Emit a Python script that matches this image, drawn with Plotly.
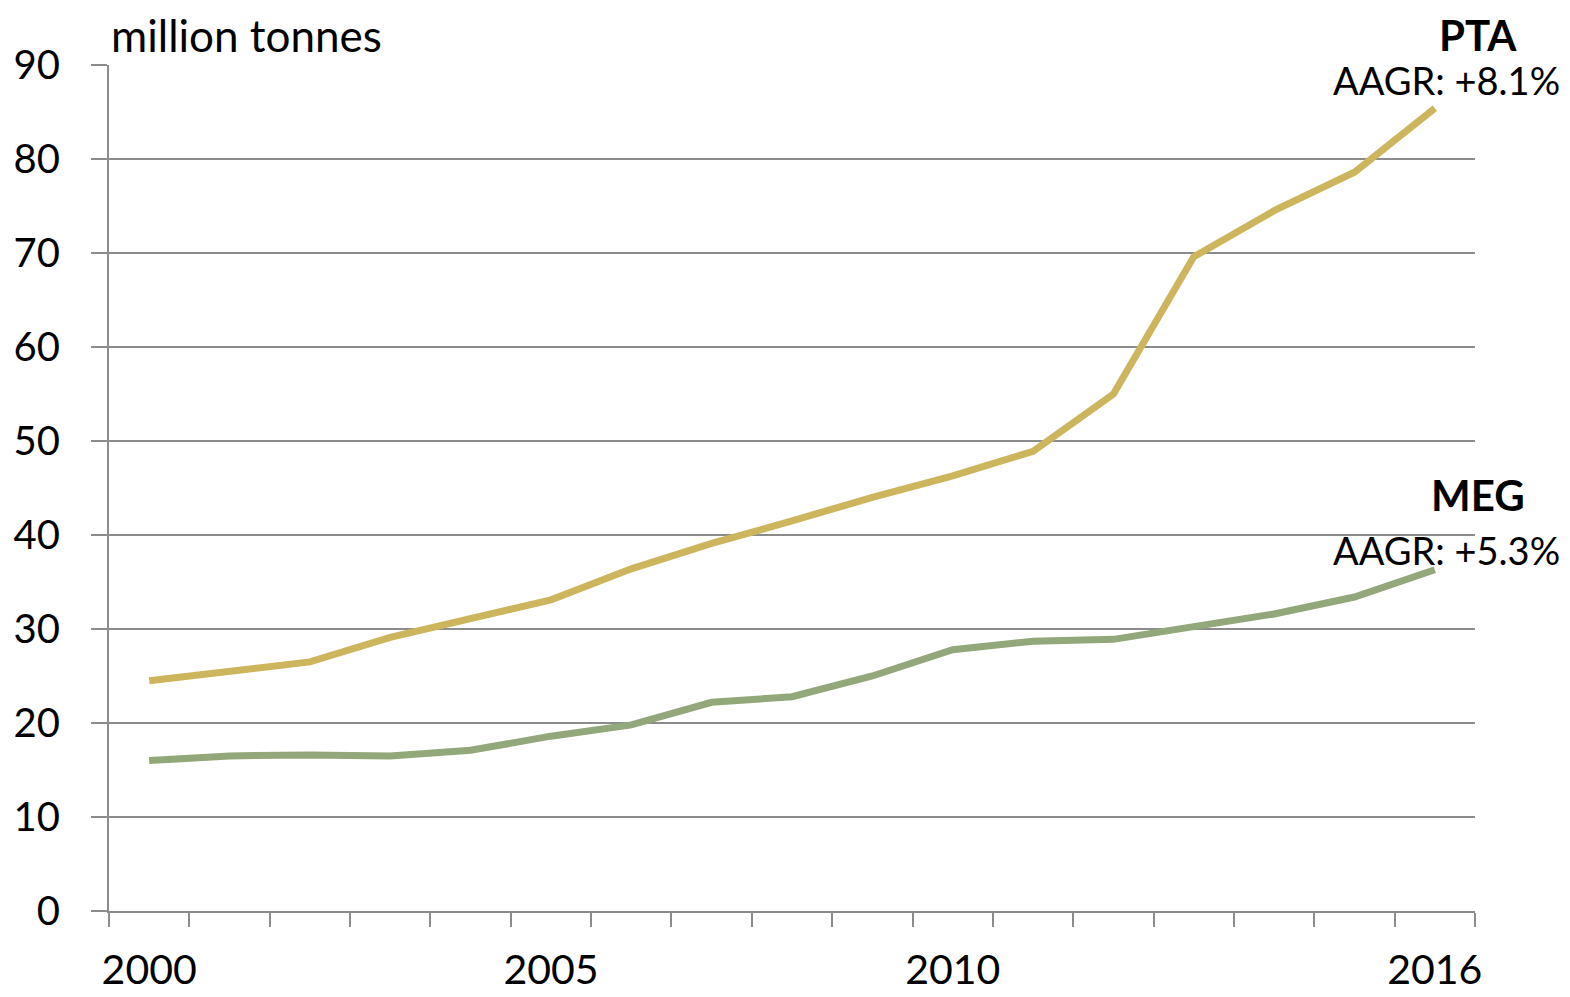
import plotly.graph_objects as go

years = list(range(2000, 2017))
pta = [24.5, 25.5, 26.5, 29.1, 31.1, 33.1, 36.4, 39.1, 41.5, 44.0, 46.3, 48.9, 55.0, 69.6, 74.5, 78.6, 85.4]
meg = [16.0, 16.5, 16.6, 16.5, 17.1, 18.6, 19.8, 22.2, 22.8, 25.0, 27.8, 28.7, 28.9, 30.2, 31.6, 33.4, 36.3]
x_tick_vals = [2000, 2005, 2010, 2016]
y_tick_vals = [0, 10, 20, 30, 40, 50, 60, 70, 80, 90]

FONT = "Lato"
GRID = "#8c8c8c"

fig = go.Figure()
fig.add_trace(go.Scatter(x=years, y=pta, mode="lines", line=dict(color="#CDB55E", width=7), name="PTA"))
fig.add_trace(go.Scatter(x=years, y=meg, mode="lines", line=dict(color="#93A87A", width=7), name="MEG"))

fig.update_layout(
    width=1554, height=989,
    margin=dict(l=101, r=87, t=57, b=86),
    plot_bgcolor="white", paper_bgcolor="white",
    showlegend=False,
    font=dict(family=FONT, size=40, color="black"),
    xaxis=dict(
        range=[1999.5, 2016.5], automargin=False,
        tickmode="array", tickvals=x_tick_vals, ticktext=[str(v) for v in x_tick_vals],
        ticks="", showgrid=False, zeroline=False,
        showline=True, linecolor=GRID, linewidth=2,
        tickfont=dict(size=41),
        ticklabelstandoff=22,
        minor=dict(tickmode="array", tickvals=[y + 0.5 for y in range(1999, 2017)],
                   ticks="outside", ticklen=14, tickcolor=GRID, tickwidth=2, showgrid=False),
    ),
    yaxis=dict(
        range=[0, 90], automargin=False,
        tickmode="array", tickvals=y_tick_vals,
        ticks="outside", ticklen=16, tickcolor=GRID, tickwidth=2,
        showgrid=True, gridcolor=GRID, gridwidth=2,
        zeroline=False, showline=True, linecolor=GRID, linewidth=2,
        tickfont=dict(size=40),
        ticklabelstandoff=23,
    ),
)

fig.add_annotation(x=0.0, y=1.0355, xref="paper", yref="paper", text="million tonnes", showarrow=False,
                   xanchor="left", yanchor="middle", font=dict(size=44))
fig.add_annotation(x=1.0022, y=1.0674, xref="paper", yref="paper", text="<b>PTA</b>", showarrow=False,
                   xanchor="center", yanchor="top", font=dict(size=42))
fig.add_annotation(x=1.064, y=0.9823, xref="paper", yref="paper", text="AAGR: +8.1%", showarrow=False,
                   xanchor="right", yanchor="middle", font=dict(size=38))
fig.add_annotation(x=1.0022, y=0.4917, xref="paper", yref="paper", text="<b>MEG</b>", showarrow=False,
                   xanchor="center", yanchor="middle", font=dict(size=42))
fig.add_annotation(x=1.064, y=0.4267, xref="paper", yref="paper", text="AAGR: +5.3%", showarrow=False,
                   xanchor="right", yanchor="middle", font=dict(size=38))

fig.write_html("out.html")
